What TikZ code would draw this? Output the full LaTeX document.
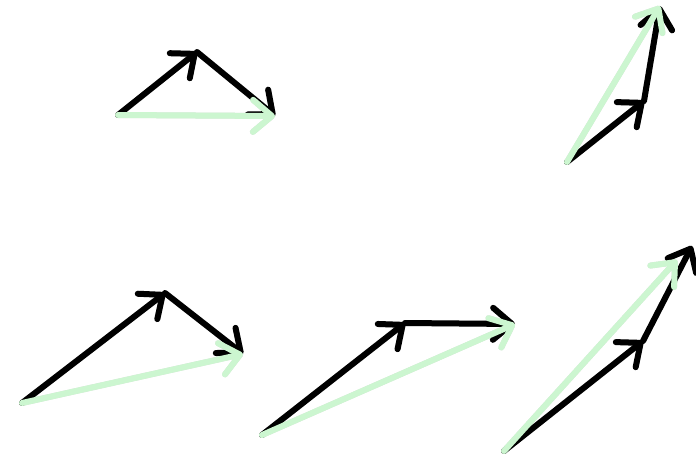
\documentclass[tikz,border=0pt]{standalone}
\usetikzlibrary{arrows.meta}
\definecolor{mint}{RGB}{204,246,208}
\begin{document}
\begin{tikzpicture}[x=1pt,y=-1pt,
  vec/.style={line width=6pt,line cap=round,line join=round,
    -{Straight Barb[length=19pt,width=32pt,round]}},
  blk/.style={vec,draw=black},
  grn/.style={vec,draw=mint},
  shd/.style={vec,draw=black,opacity=0.12,shift={(1.5,2.5)}}]
\useasboundingbox (0,0) rectangle (696,456);
% diagram 1
\coordinate (a0) at (118,115);
\coordinate (a1) at (197,52);
\coordinate (a2) at (275,116);
% diagram 2
\coordinate (b0) at (567,162);
\coordinate (b1) at (644,101);
\coordinate (b2) at (660,6);
% diagram 3
\coordinate (c0) at (22,403);
\coordinate (c1) at (165,293);
\coordinate (c2) at (243,354);
% diagram 4
\coordinate (d0) at (262,435);
\coordinate (d1) at (405,323);
\coordinate (d2) at (515,324);
% diagram 5
\coordinate (e0) at (504,451);
\coordinate (e1) at (643,341);
\coordinate (e2) at (692,246);
\coordinate (e3) at (677,260);
% shadows
\foreach \p/\q in {a0/a1,a1/a2,a0/a2,b0/b1,b1/b2,b0/b2,c0/c1,c1/c2,c0/c2,d0/d1,d1/d2,d0/d2,e0/e1,e1/e2,e0/e3}
  \draw[shd] (\p) -- (\q);
% black vectors
\draw[blk] (a0) -- (a1);
\draw[blk] (a1) -- (a2);
\draw[blk] (b0) -- (b1);
\draw[blk] (b1) -- (b2);
\draw[blk] (c0) -- (c1);
\draw[blk] (c1) -- (c2);
\draw[blk] (d0) -- (d1);
\draw[blk] (d1) -- (d2);
\draw[blk] (e0) -- (e1);
\draw[blk] (e1) -- (e2);
% green resultants
\draw[grn] (a0) -- (a2);
\draw[grn] (b0) -- (b2);
\draw[grn] (c0) -- (c2);
\draw[grn] (d0) -- (d2);
\draw[grn] (e0) -- (e3);
\end{tikzpicture}
\end{document}
